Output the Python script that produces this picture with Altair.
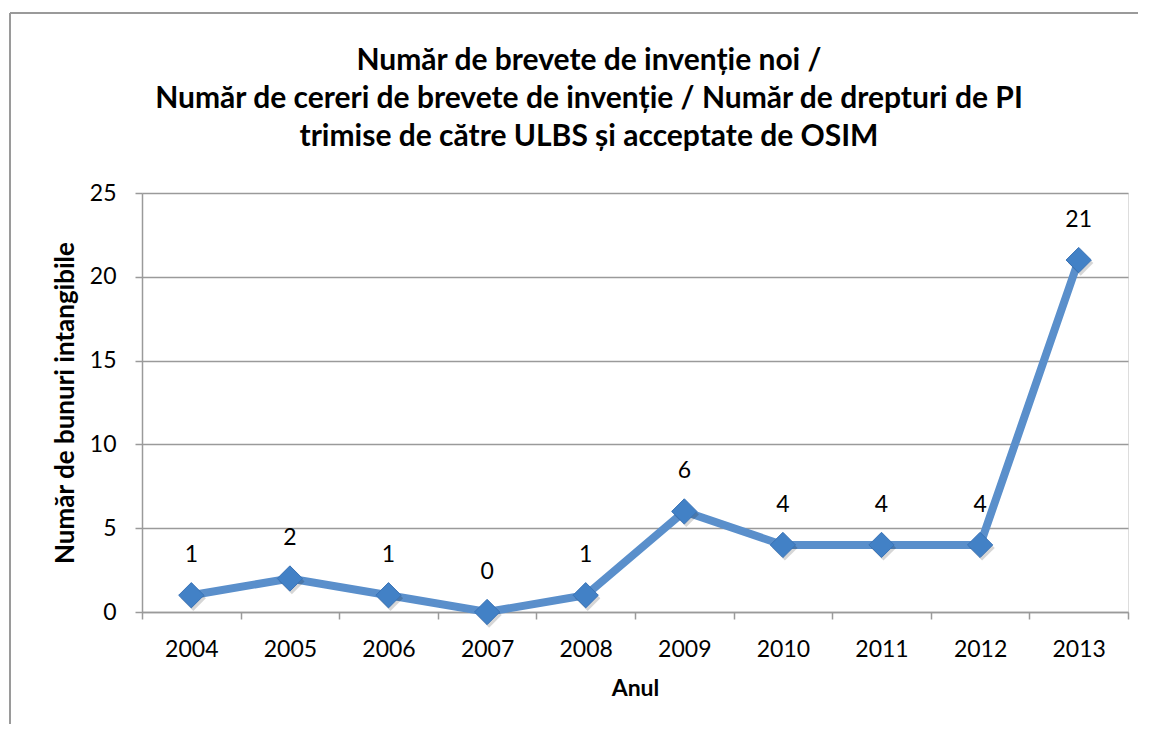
import altair as alt
import pandas as pd

years = ["2004", "2005", "2006", "2007", "2008", "2009", "2010", "2011", "2012", "2013"]
values = [1, 2, 1, 0, 1, 6, 4, 4, 4, 21]

title_lines = [
    "Număr de brevete de invenție noi /",
    "Număr de cereri de brevete de invenție / Număr de drepturi de PI",
    "trimise de către ULBS și acceptate de OSIM",
]
y_title = "Număr de bunuri intangibile"
x_title = "Anul"

df = pd.DataFrame({"year": years, "value": values})

FONT = "Lato"
GRAY = "#9a9a9a"

x = alt.X(
    "year:O",
    bandPosition=0.5,
    scale=alt.Scale(type="band", paddingInner=0, paddingOuter=0),
    axis=alt.Axis(
        title=x_title,
        labelAngle=0,
        tickBand="extent",
        tickSize=7,
        tickColor=GRAY,
        tickWidth=1.5,
        domainColor=GRAY,
        domainWidth=1.5,
        labelPadding=19,
        labelFontSize=23,
        labelFont=FONT,
        labelColor="black",
        titleFont=FONT,
        titleFontSize=23,
        titleFontWeight="bold",
        titleColor="black",
        titlePadding=16,
        grid=False,
    ),
)
y = alt.Y(
    "value:Q",
    scale=alt.Scale(domain=[0, 25], nice=False),
    axis=alt.Axis(
        title=y_title,
        values=[0, 5, 10, 15, 20, 25],
        tickSize=7,
        tickColor=GRAY,
        tickWidth=1.5,
        domainColor=GRAY,
        domainWidth=1.5,
        gridColor=GRAY,
        gridWidth=1.5,
        labelPadding=19,
        labelFontSize=23,
        labelFont=FONT,
        labelColor="black",
        titleFont=FONT,
        titleFontSize=26,
        titleFontWeight="bold",
        titleColor="black",
        titlePadding=11,
    ),
)

base = alt.Chart(df)

line = base.mark_line(color="#5a8fcb", strokeWidth=8, strokeJoin="miter").encode(x=x, y=y)
shadow = base.mark_point(
    shape="diamond", filled=True, size=640, color="#000000", opacity=0.16, xOffset=2, yOffset=3
).encode(x=x, y=y)
points = base.mark_point(
    shape="diamond", filled=True, size=640, fill="#4281c6", stroke="#3a73b6", strokeWidth=1, opacity=1
).encode(x=x, y=y)
labels = base.mark_text(dy=-40, fontSize=23, font=FONT, color="black").encode(
    x=x, y=y, text="value:Q"
)

frame_top = base.mark_rule(color=GRAY, strokeWidth=2).encode(
    x=alt.value(-132), x2=alt.value(1020), y=alt.value(-180)
)
frame_left = base.mark_rule(color=GRAY, strokeWidth=2).encode(
    x=alt.value(-132), y=alt.value(-180), y2=alt.value(540)
)

chart = (
    alt.layer(frame_top, frame_left, line, shadow, points, labels)
    .properties(
        width=986,
        height=419,
        autosize=alt.AutoSizeParams(type="none"),
        padding={"left": 134, "top": 185, "right": 10, "bottom": 112},
        title=alt.TitleParams(
            text=title_lines,
            font=FONT,
            fontSize=30,
            fontWeight="bold",
            color="black",
            lineHeight=38,
            anchor="middle",
            frame="group",
            dx=-46,
            offset=-140,
        ),
    )
    .configure_view(stroke=None)
    .configure(background="white")
)

chart.save("out.html", embed_options={"renderer": "svg", "actions": False})
